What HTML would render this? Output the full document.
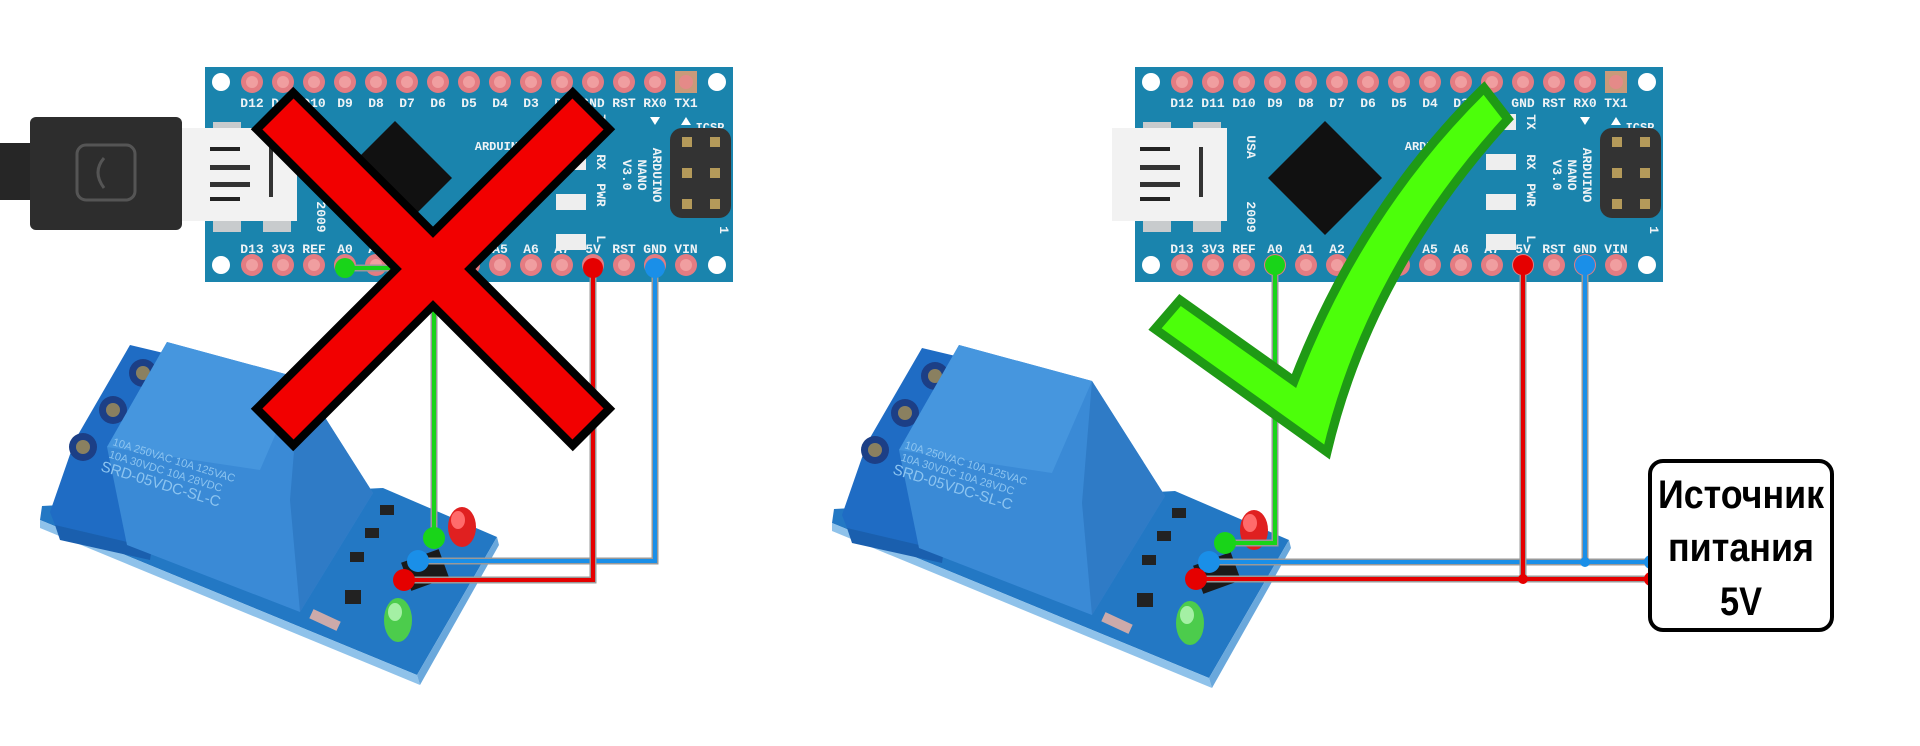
<!DOCTYPE html>
<html><head><meta charset="utf-8"><style>
html,body{margin:0;padding:0;background:#fff;}
svg{display:block;}
.lb{font-family:"Liberation Mono",monospace;font-weight:bold;font-size:13px;fill:#eef3f6;text-anchor:middle;}
.rt{font-family:"Liberation Sans",sans-serif;font-size:11px;fill:#8cc4f0;}
</style></head><body>
<svg width="1920" height="746" viewBox="0 0 1920 746" xmlns="http://www.w3.org/2000/svg">
<defs>
<g id="pin"><circle r="11" fill="#e47c82"/><circle r="6" fill="#f09ea0"/></g>
<g id="relay">
  <polygon points="42,506 383,488 497,537 417,675 40,520" fill="#2378c4"/>
  <polygon points="40,520 417,675 420,685 40,528" fill="#8fc2ea"/>
  <polygon points="417,675 497,537 499,545 420,685" fill="#6aa8dc"/>
  <polygon points="50,512 75,440 130,345 172,355 140,545 55,525" fill="#1f6cc4"/>
  <polygon points="55,525 140,545 172,355 180,360 150,560 60,540" fill="#1a5fae"/>
  <circle cx="143" cy="373" r="14" fill="#1c3f86"/><circle cx="143" cy="373" r="7" fill="#8a8060"/>
  <circle cx="113" cy="410" r="14" fill="#1c3f86"/><circle cx="113" cy="410" r="7" fill="#8a8060"/>
  <circle cx="83" cy="447" r="14" fill="#1c3f86"/><circle cx="83" cy="447" r="7" fill="#8a8060"/>
  <polygon points="107,447 167,342 300,378 373,493 300,612 127,545" fill="#3a8ad6"/>
  <polygon points="300,378 373,493 300,612 290,500" fill="#2f7bc6"/>
  <polygon points="107,447 167,342 300,378 260,470" fill="#4696de"/>
  <g transform="translate(112,445) rotate(17)">
    <text class="rt" x="0" y="0">10A 250VAC  10A 125VAC</text>
    <text class="rt" x="0" y="13">10A  30VDC  10A  28VDC</text>
    <text class="rt" x="-4" y="28" style="font-size:15px">SRD-05VDC-SL-C</text>
  </g>
  <rect x="380" y="505" width="14" height="10" fill="#222"/>
  <rect x="365" y="528" width="14" height="10" fill="#222"/>
  <rect x="350" y="552" width="14" height="10" fill="#222"/>
  <rect x="345" y="590" width="16" height="14" fill="#222"/>
  <rect x="405" y="555" width="40" height="30" fill="#1a1a1a" transform="rotate(-20 425 570)"/>
  <ellipse cx="462" cy="527" rx="14" ry="20" fill="#e02020"/>
  <ellipse cx="458" cy="520" rx="7" ry="9" fill="#ff6b6b"/>
  <ellipse cx="398" cy="620" rx="14" ry="22" fill="#4ccc4c"/>
  <ellipse cx="395" cy="612" rx="7" ry="9" fill="#a4f0a4"/>
  <rect x="310" y="615" width="30" height="10" fill="#caa" transform="rotate(25 325 620)"/>
</g>
<g id="board">
  <rect x="0" y="0" width="528" height="215" fill="#1a84ad"/>
  <circle cx="16" cy="15" r="9" fill="#fff"/><circle cx="512" cy="15" r="9" fill="#fff"/>
  <circle cx="16" cy="198" r="9" fill="#fff"/><circle cx="512" cy="198" r="9" fill="#fff"/>
  <use href="#pin" x="47" y="15"/><use href="#pin" x="78" y="15"/><use href="#pin" x="109" y="15"/><use href="#pin" x="140" y="15"/><use href="#pin" x="171" y="15"/><use href="#pin" x="202" y="15"/><use href="#pin" x="233" y="15"/><use href="#pin" x="264" y="15"/><use href="#pin" x="295" y="15"/><use href="#pin" x="326" y="15"/><use href="#pin" x="357" y="15"/><use href="#pin" x="388" y="15"/><use href="#pin" x="419" y="15"/><use href="#pin" x="450" y="15"/>
  <rect x="470" y="4" width="22" height="22" fill="#c99a7a"/><circle cx="481" cy="15" r="7" fill="#e48a88"/>
  <use href="#pin" x="47" y="198"/><use href="#pin" x="78" y="198"/><use href="#pin" x="109" y="198"/><use href="#pin" x="140" y="198"/><use href="#pin" x="171" y="198"/><use href="#pin" x="202" y="198"/><use href="#pin" x="233" y="198"/><use href="#pin" x="264" y="198"/><use href="#pin" x="295" y="198"/><use href="#pin" x="326" y="198"/><use href="#pin" x="357" y="198"/><use href="#pin" x="388" y="198"/><use href="#pin" x="419" y="198"/><use href="#pin" x="450" y="198"/><use href="#pin" x="481" y="198"/>
  <text class="lb" x="47" y="40">D12</text><text class="lb" x="78" y="40">D11</text><text class="lb" x="109" y="40">D10</text><text class="lb" x="140" y="40">D9</text><text class="lb" x="171" y="40">D8</text><text class="lb" x="202" y="40">D7</text><text class="lb" x="233" y="40">D6</text><text class="lb" x="264" y="40">D5</text><text class="lb" x="295" y="40">D4</text><text class="lb" x="326" y="40">D3</text><text class="lb" x="357" y="40">D2</text><text class="lb" x="388" y="40">GND</text><text class="lb" x="419" y="40">RST</text><text class="lb" x="450" y="40">RX0</text><text class="lb" x="481" y="40">TX1</text>
  <text class="lb" x="47" y="186">D13</text><text class="lb" x="78" y="186">3V3</text><text class="lb" x="109" y="186">REF</text><text class="lb" x="140" y="186">A0</text><text class="lb" x="171" y="186">A1</text><text class="lb" x="202" y="186">A2</text><text class="lb" x="233" y="186">A3</text><text class="lb" x="264" y="186">A4</text><text class="lb" x="295" y="186">A5</text><text class="lb" x="326" y="186">A6</text><text class="lb" x="357" y="186">A7</text><text class="lb" x="388" y="186">5V</text><text class="lb" x="419" y="186">RST</text><text class="lb" x="450" y="186">GND</text><text class="lb" x="481" y="186">VIN</text>
  <polygon points="445,50 455,50 450,58" fill="#fff"/><polygon points="476,58 486,58 481,50" fill="#fff"/>
  <text class="lb" x="505" y="64" style="font-size:12px">ICSP</text>
  <rect x="8" y="55" width="28" height="110" fill="#c8cbcd"/>
  <rect x="58" y="55" width="28" height="110" fill="#c8cbcd"/>
  <rect x="-23" y="61" width="115" height="93" fill="#f2f2f2"/>
  <rect x="5" y="80" width="30" height="4" fill="#222"/><rect x="5" y="130" width="30" height="4" fill="#222"/>
  <rect x="5" y="98" width="40" height="5" fill="#333"/><rect x="5" y="115" width="40" height="5" fill="#333"/>
  <rect x="64" y="80" width="4" height="50" fill="#333"/>
  <text class="lb" x="112" y="80" transform="rotate(90 112 80)">USA</text>
  <text class="lb" x="112" y="150" transform="rotate(90 112 150)">2009</text>
  <polygon points="190,54 247,111 190,168 133,111" fill="#111"/>
  <rect x="351" y="47" width="30" height="16" fill="#eee"/><rect x="351" y="87" width="30" height="16" fill="#eee"/>
  <rect x="351" y="127" width="30" height="16" fill="#eee"/><rect x="351" y="167" width="30" height="16" fill="#eee"/>
  <text class="lb" x="392" y="55" transform="rotate(90 392 55)">TX</text>
  <text class="lb" x="392" y="95" transform="rotate(90 392 95)">RX</text>
  <text class="lb" x="392" y="128" transform="rotate(90 392 128)">PWR</text>
  <text class="lb" x="392" y="172" transform="rotate(90 392 172)">L</text>
  <text class="lb" x="295" y="83" style="font-size:12px">ARDUINO</text>
  <text class="lb" x="448" y="108" transform="rotate(90 448 108)">ARDUINO</text>
  <text class="lb" x="433" y="108" transform="rotate(90 433 108)">NANO</text>
  <text class="lb" x="418" y="108" transform="rotate(90 418 108)">V3.0</text>
  <rect x="465" y="61" width="61" height="90" rx="12" fill="#333"/>
  <rect x="477" y="70" width="10" height="10" fill="#b49a5a"/><rect x="505" y="70" width="10" height="10" fill="#b49a5a"/>
  <rect x="477" y="101" width="10" height="10" fill="#b49a5a"/><rect x="505" y="101" width="10" height="10" fill="#b49a5a"/>
  <rect x="477" y="132" width="10" height="10" fill="#b49a5a"/><rect x="505" y="132" width="10" height="10" fill="#b49a5a"/>
  <text class="lb" x="515" y="163" transform="rotate(90 515 163)">1</text>
</g>
</defs>

<!-- relays -->
<use href="#relay"/>
<use href="#relay" transform="translate(792,3)"/>

<!-- boards -->
<use href="#board" transform="translate(205,67)"/>
<use href="#board" transform="translate(1135,67)"/>

<!-- USB cable left -->
<rect x="0" y="143" width="34" height="57" fill="#262626"/>
<rect x="30" y="117" width="152" height="113" rx="6" fill="#2d2d2d"/>
<rect x="77" y="145" width="58" height="55" rx="9" fill="none" stroke="#555" stroke-width="3"/>
<path d="M104,158 Q92,172 104,188" fill="none" stroke="#555" stroke-width="3"/>

<!-- wires left -->
<g fill="none" stroke-linejoin="miter">
  <path d="M345,268 H434 V538" stroke="#999" stroke-width="7"/>
  <path d="M345,268 H434 V538" stroke="#19d419" stroke-width="4"/>
  <path d="M655,268 V561 H418" stroke="#999" stroke-width="7"/>
  <path d="M655,268 V561 H418" stroke="#1a8fe8" stroke-width="4"/>
  <path d="M593,268 V580 H404" stroke="#999" stroke-width="7"/>
  <path d="M593,268 V580 H404" stroke="#e50000" stroke-width="4"/>
</g>
<circle cx="345" cy="268" r="10" fill="#19d419"/><circle cx="655" cy="268" r="10" fill="#1a8fe8"/><circle cx="593" cy="268" r="10" fill="#e50000"/>
<circle cx="434" cy="538" r="11" fill="#19d419"/><circle cx="418" cy="561" r="11" fill="#1a8fe8"/><circle cx="404" cy="580" r="11" fill="#e50000"/>

<!-- red X -->
<line x1="272" y1="108" x2="594" y2="430" stroke="#000" stroke-width="60"/>
<line x1="594" y1="108" x2="272" y2="430" stroke="#000" stroke-width="60"/>
<line x1="278" y1="114" x2="588" y2="424" stroke="#f20000" stroke-width="44"/>
<line x1="588" y1="114" x2="278" y2="424" stroke="#f20000" stroke-width="44"/>
<rect x="425" y="247" width="14" height="40" fill="#f20000" transform="rotate(45 432 267)"/>

<!-- wires right -->
<g fill="none">
  <path d="M1275,265 V543 H1225" stroke="#999" stroke-width="7"/>
  <path d="M1275,265 V543 H1225" stroke="#19d419" stroke-width="4"/>
  <path d="M1585,265 V562 M1209,562 H1651" stroke="#999" stroke-width="7"/>
  <path d="M1585,265 V562 M1209,562 H1651" stroke="#1a8fe8" stroke-width="4"/>
  <path d="M1523,265 V579 M1196,579 H1651" stroke="#999" stroke-width="7"/>
  <path d="M1523,265 V579 M1196,579 H1651" stroke="#e50000" stroke-width="4"/>
</g>
<circle cx="1275" cy="265" r="10" fill="#19d419"/><circle cx="1585" cy="265" r="10" fill="#1a8fe8"/><circle cx="1523" cy="265" r="10" fill="#e50000"/>
<circle cx="1225" cy="543" r="11" fill="#19d419"/><circle cx="1209" cy="562" r="11" fill="#1a8fe8"/><circle cx="1196" cy="579" r="11" fill="#e50000"/>
<circle cx="1585" cy="562" r="5" fill="#1a8fe8"/><circle cx="1523" cy="579" r="5" fill="#e50000"/>
<circle cx="1651" cy="562" r="7" fill="#1a8fe8"/><circle cx="1651" cy="579" r="7" fill="#e50000"/>

<!-- check -->
<path d="M1180,300 L1294,381 Q1360,210 1484,88 L1508,119 Q1370,270 1327,452 L1155,329 Z" fill="#4cff0a" stroke="#1f9a15" stroke-width="9" stroke-linejoin="miter"/>

<!-- box -->
<rect x="1650" y="461" width="182" height="169" rx="13" fill="#fff" stroke="#000" stroke-width="4"/>
<g font-family="'Liberation Sans', 'DejaVu Sans', sans-serif" font-weight="bold" font-size="40" text-anchor="middle" fill="#000">
  <text x="1741" y="508" textLength="166" lengthAdjust="spacingAndGlyphs">Источник</text>
  <text x="1741" y="561" textLength="146" lengthAdjust="spacingAndGlyphs">питания</text>
  <text x="1741" y="615" textLength="42" lengthAdjust="spacingAndGlyphs">5V</text>
</g>
</svg>
</body></html>
